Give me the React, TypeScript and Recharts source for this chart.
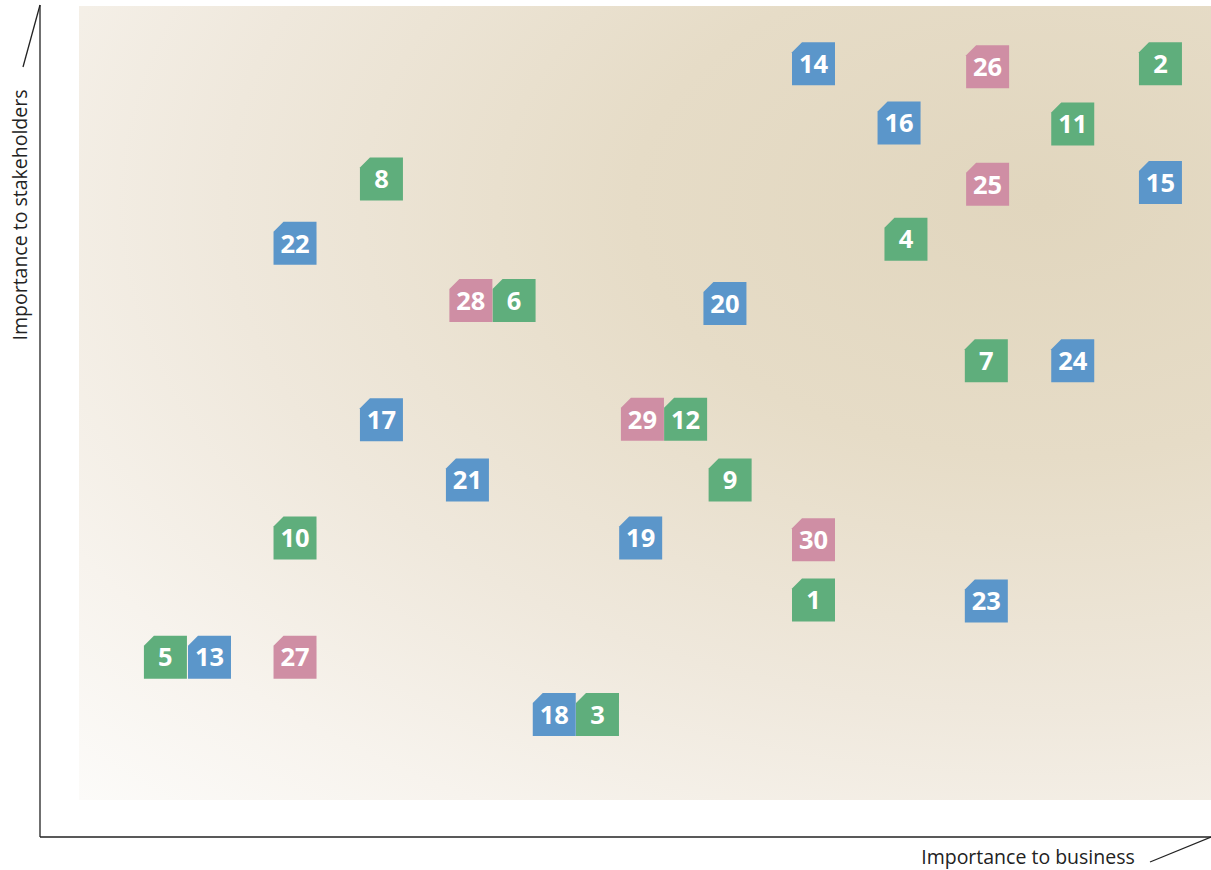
import { ScatterChart, Scatter, XAxis, YAxis } from 'recharts';

// materiality topics, grouped by colour
const greenIds = [1, 2, 3, 4, 5, 6, 7, 8, 9, 10, 11, 12];
const greenBusiness = [17, 25.03, 12, 19.14, 2, 10.07, 21, 7, 15.07, 5, 23, 14.04];
const greenStakeholders = [2.94, 12.02, 1, 9.05, 1.97, 8.01, 6.99, 10.07, 4.97, 3.99, 11, 6];

const blueIds = [13, 14, 15, 16, 17, 18, 19, 20, 21, 22, 23, 24];
const blueBusiness = [3.02, 17, 25.03, 18.98, 7, 11, 13, 14.95, 8.99, 5, 21, 23];
const blueStakeholders = [1.97, 12.02, 10.01, 11.02, 5.99, 1, 3.99, 7.96, 4.97, 8.98, 2.92, 6.99];

const pinkIds = [25, 26, 27, 28, 29, 30];
const pinkBusiness = [21.03, 21.03, 5, 9.07, 13.04, 17];
const pinkStakeholders = [9.98, 11.97, 1.97, 8.01, 6, 3.96];

const W = 1211;
const H = 870;

const build = (ids: number[], xs: number[], ys: number[]) =>
  ids.map((id, i) => ({ id, business: xs[i], stake: ys[i] }));

const makeShape = (color: string) => (props: any) => {
  const { cx, cy, payload } = props;
  const s = 43;
  const cut = 10;
  const l = cx - s / 2;
  const t = cy - s / 2;
  return (
    <g>
      <path
        d={`M${l + cut},${t} H${l + s} V${t + s} H${l} V${t + cut} Z`}
        fill={color}
      />
      <text
        x={cx}
        y={cy + 9.3}
        textAnchor="middle"
        fill="#ffffff"
        fontFamily="'Open Sans', sans-serif"
        fontWeight={700}
        fontSize={25.5}
      >
        {payload.id}
      </text>
    </g>
  );
};

const App = () => {
  return (
    <div style={{ position: 'absolute', left: 0, top: 0, width: W, height: H, background: '#fff' }}>
      <div
        style={{
          position: 'absolute',
          left: 79,
          top: 6,
          width: 1132,
          height: 794,
          background:
            'radial-gradient(ellipse farthest-corner at 85% 25%, #e1d6be 0%, #e6dcc7 30%, #efe8dc 60%, #f7f3ed 82%, #fcfbf9 100%)',
        }}
      />
      <svg
        width={W}
        height={H}
        style={{ position: 'absolute', left: 0, top: 0 }}
        fontFamily="'Open Sans', sans-serif"
      >
        <line x1={40} y1={5} x2={40} y2={837} stroke="#222" strokeWidth={1.3} />
        <line x1={40} y1={837} x2={1211} y2={837} stroke="#222" strokeWidth={1.3} />
        <line x1={40} y1={5} x2={23} y2={67} stroke="#222" strokeWidth={1.3} />
        <line x1={1211} y1={837} x2={1150} y2={862} stroke="#222" strokeWidth={1.3} />
        <text
          x={0}
          y={0}
          transform="translate(26.5,215) rotate(-90)"
          textAnchor="middle"
          fontSize={19.5}
          fill="#222"
        >
          Importance to stakeholders
        </text>
        <text x={1028} y={864} textAnchor="middle" fontSize={19.5} fill="#222">
          Importance to business
        </text>
      </svg>
      <div style={{ position: 'absolute', left: 0, top: 0 }}>
        <ScatterChart width={W} height={H} margin={{ top: 6, right: 0, bottom: 70, left: 79 }}>
          <XAxis type="number" dataKey="business" domain={[0, 26.2]} hide />
          <YAxis type="number" dataKey="stake" domain={[-0.45, 13]} hide />
          <Scatter
            data={build(greenIds, greenBusiness, greenStakeholders)}
            shape={makeShape('#5fae7c')}
            isAnimationActive={false}
          />
          <Scatter
            data={build(blueIds, blueBusiness, blueStakeholders)}
            shape={makeShape('#5b96ca')}
            isAnimationActive={false}
          />
          <Scatter
            data={build(pinkIds, pinkBusiness, pinkStakeholders)}
            shape={makeShape('#cf8ea4')}
            isAnimationActive={false}
          />
        </ScatterChart>
      </div>
    </div>
  );
};

export default App;
